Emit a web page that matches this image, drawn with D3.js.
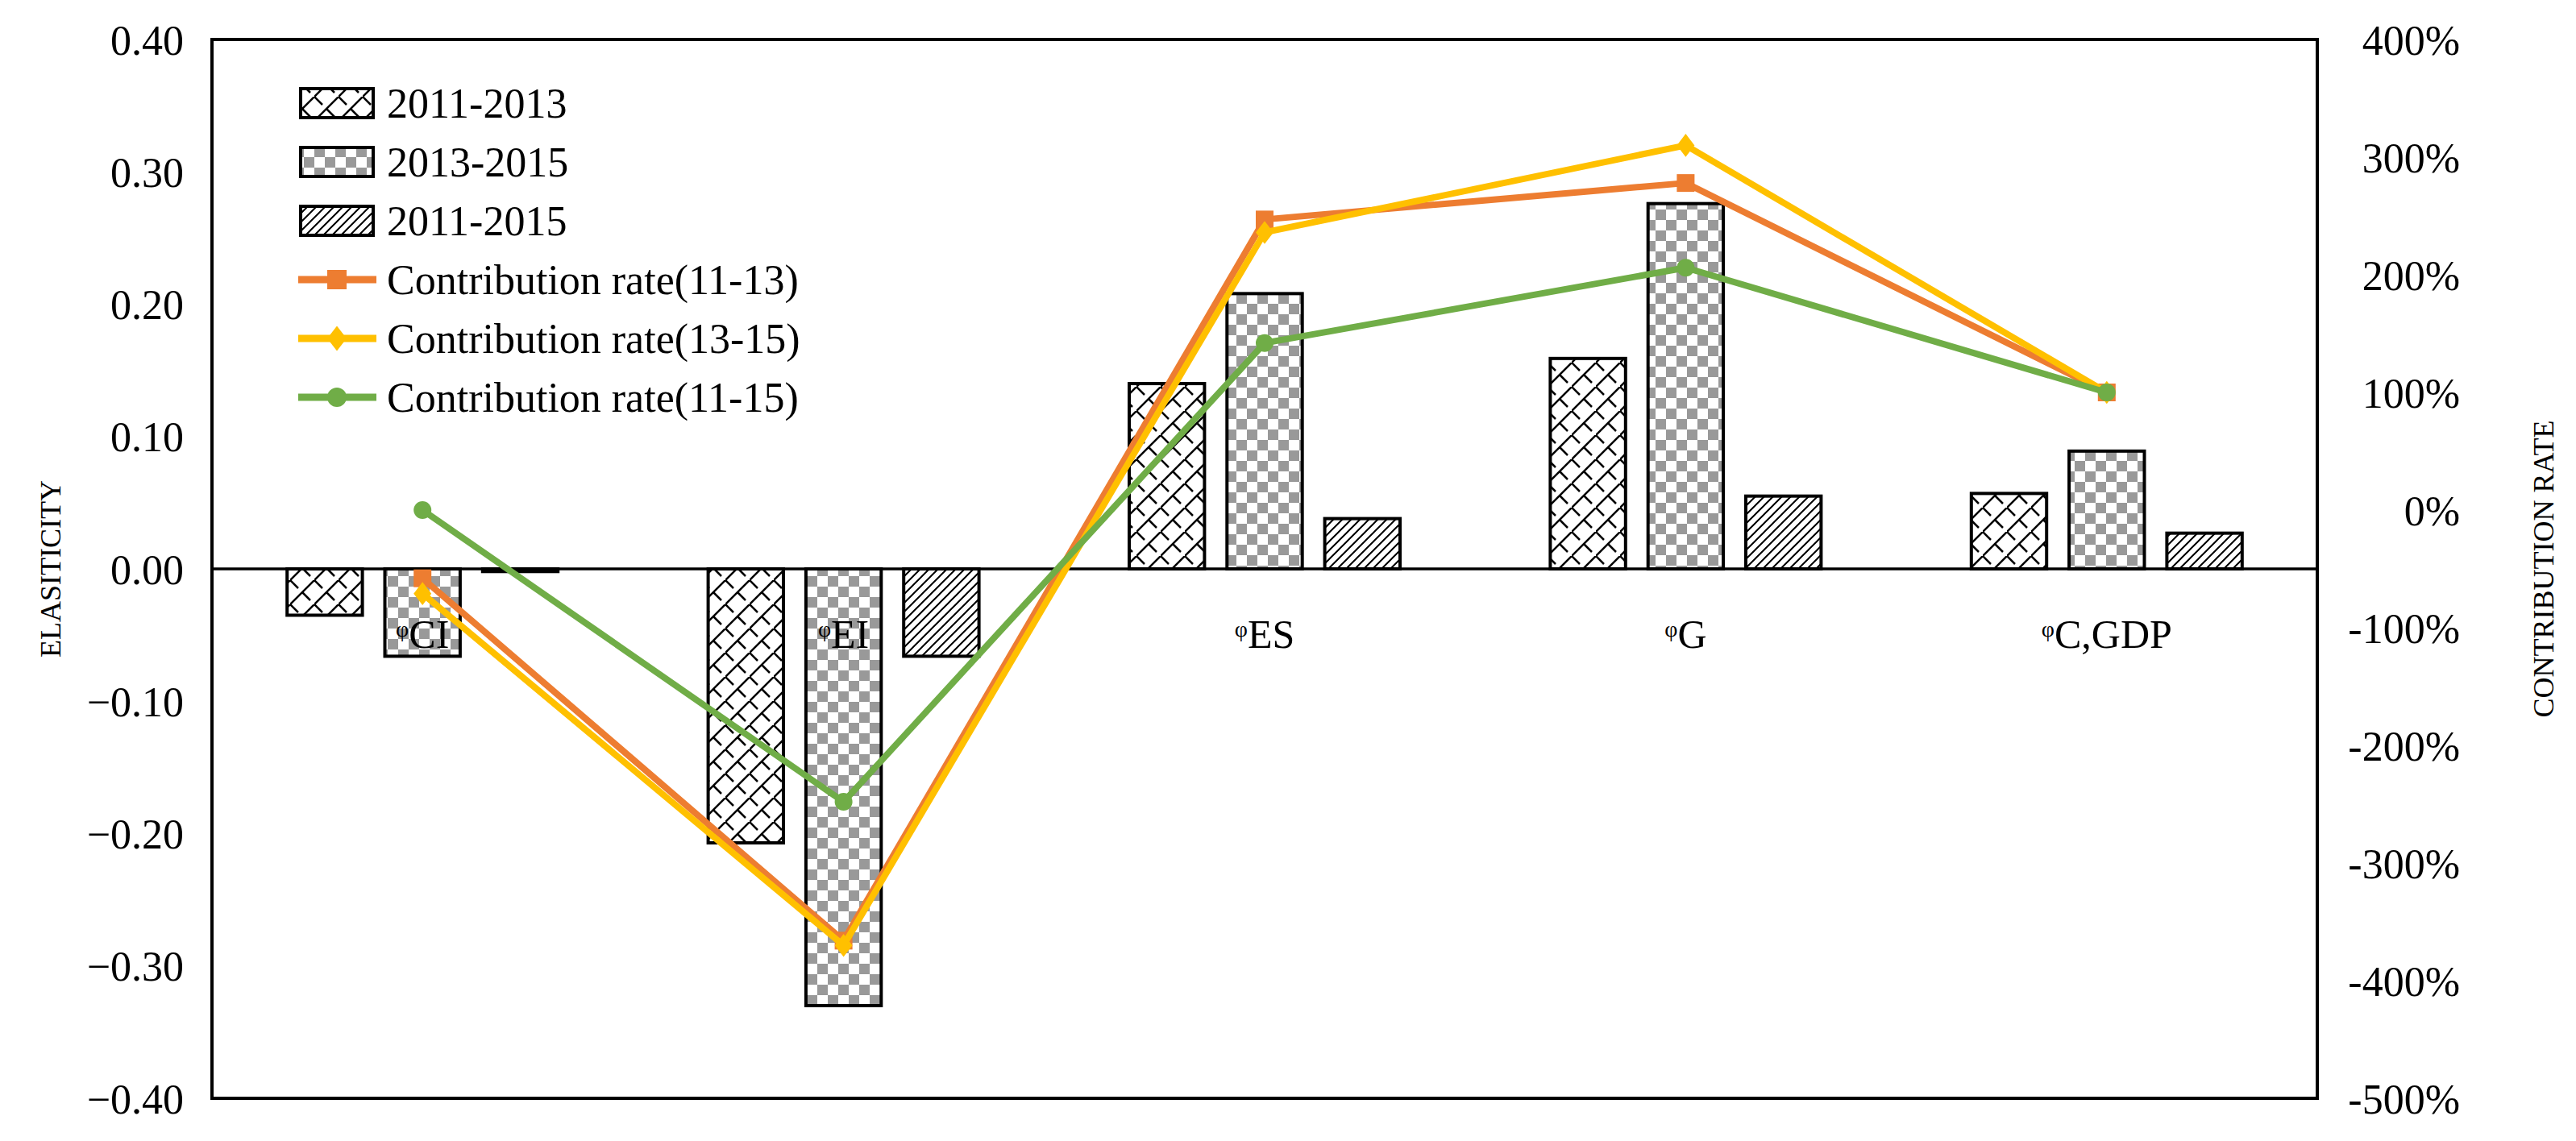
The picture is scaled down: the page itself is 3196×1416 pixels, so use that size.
<!DOCTYPE html>
<html><head><meta charset="utf-8">
<script src="https://cdn.jsdelivr.net/npm/d3@7"></script>
<style>body{margin:0;background:#fff}text{font-family:"Liberation Serif","Times New Roman",serif}</style>
</head><body><svg id="c" width="3196" height="1416"></svg>
<script>
const categories = ["CI","EI","ES","G","C,GDP"];
const barSeries = ["2011-2013","2013-2015","2011-2015"];
const bar1113 = [-0.035,-0.207,0.140,0.159,0.057];
const bar1315 = [-0.066,-0.330,0.208,0.276,0.089];
const bar1115 = [-0.002,-0.066,0.038,0.055,0.027];
const lineSeries = ["Contribution rate(11-13)","Contribution rate(13-15)","Contribution rate(11-15)"];
const rate1113 = [-58,-366,247,278,100];
const rate1315 = [-71,-370,236,310,100];
const rate1115 = [0,-248,142,206,100];
const leftTicks = [0.4,0.3,0.2,0.1,0,-0.1,-0.2,-0.3,-0.4];
const rightTicks = [400,300,200,100,0,-100,-200,-300,-400,-500];

const svg = d3.select("#c");
const L=263,R=2875,T=49,B=1363;
const x = d3.scaleBand().domain(categories).range([L,R]);
const yL = d3.scaleLinear().domain([-0.4,0.4]).range([B,T]);
const yR = d3.scaleLinear().domain([-500,400]).range([B,T]);
const sub = d3.scaleBand().domain(barSeries).range([-168,168]).paddingInner(0.23);

const defs = svg.append("defs");
// pattern 1: trellis
let p1 = defs.append("pattern").attr("id","p1").attr("patternUnits","userSpaceOnUse").attr("width",30).attr("height",30);
p1.append("rect").attr("width",30).attr("height",30).attr("fill","#fff");
p1.append("path").attr("d","M-2,32 L32,-2 M0,0 L10,10 M15,15 L25,25").attr("stroke","#000").attr("stroke-width",2.5);
let p2 = defs.append("pattern").attr("id","p2").attr("patternUnits","userSpaceOnUse").attr("width",26).attr("height",26);
p2.append("rect").attr("width",26).attr("height",26).attr("fill","#fff");
p2.append("rect").attr("width",13).attr("height",13).attr("fill","#999");
p2.append("rect").attr("x",13).attr("y",13).attr("width",13).attr("height",13).attr("fill","#999");
let p3 = defs.append("pattern").attr("id","p3").attr("patternUnits","userSpaceOnUse").attr("width",11).attr("height",11);
p3.append("rect").attr("width",11).attr("height",11).attr("fill","#fff");
p3.append("path").attr("d","M-2,13 L13,-2 M-2,2 L2,-2 M9,13 L13,9").attr("stroke","#000").attr("stroke-width",2);
const fills = ["url(#p1)","url(#p2)","url(#p3)"];
const barData = [bar1113,bar1315,bar1115];

barData.forEach((vals,si)=>{
  svg.append("g").selectAll("rect").data(vals).join("rect")
    .attr("x",(d,i)=>x(categories[i])+x.bandwidth()/2+sub(barSeries[si]))
    .attr("width",sub.bandwidth())
    .attr("y",d=>Math.min(yL(d),yL(0)))
    .attr("height",d=>Math.abs(yL(d)-yL(0)))
    .attr("fill",fills[si]).attr("stroke","#000").attr("stroke-width",4);
});

// frame
svg.append("rect").attr("x",L).attr("y",T).attr("width",R-L).attr("height",B-T).attr("fill","none").attr("stroke","#000").attr("stroke-width",4);
svg.append("line").attr("x1",L).attr("x2",R).attr("y1",yL(0)).attr("y2",yL(0)).attr("stroke","#000").attr("stroke-width",3.5);

// category labels
const cl = svg.append("g").selectAll("text").data(categories).join("text")
  .attr("x",d=>x(d)+x.bandwidth()/2).attr("y",804).attr("text-anchor","middle")
  .attr("font-size",50).attr("fill","#000");
cl.append("tspan").attr("font-size",28).attr("dy",-14).text("φ");
cl.append("tspan").attr("dy",14).text(d=>d);

// axes
const ax = d3.axisLeft(yL).tickValues(leftTicks).tickFormat(d3.format(".2f")).tickSize(0).tickPadding(35);
const gl = svg.append("g").attr("transform",`translate(${L},0)`).call(ax);
gl.select(".domain").remove();
gl.selectAll("text").attr("font-size",52).attr("font-family","Liberation Serif").attr("fill","#000").attr("dy","0.35em");
const ar = d3.axisRight(yR).tickValues(rightTicks).tickFormat(d=>d+"%").tickSize(0).tickPadding(177);
const gr = svg.append("g").attr("transform",`translate(${R},0)`).call(ar);
gr.select(".domain").remove();
gr.selectAll("text").attr("font-size",52).attr("font-family","Liberation Serif").attr("fill","#000").attr("text-anchor","end").attr("dy","0.35em");

svg.append("text").attr("transform","translate(75,706) rotate(-90)").attr("text-anchor","middle").attr("font-size",36).text("ELASITICITY");
svg.append("text").attr("transform","translate(3168,706) rotate(-90)").attr("text-anchor","middle").attr("font-size",36).text("CONTRIBUTION RATE");

// lines
const colors = ["#ED7D31","#FFC000","#70AD47"];
const rates = [rate1113,rate1315,rate1115];
const cx = i=>x(categories[i])+x.bandwidth()/2;
function marker(g,k,s){
  if(k===0) g.append("rect").attr("x",-s).attr("y",-s).attr("width",2*s).attr("height",2*s).attr("fill",colors[0]);
  else if(k===1) g.append("path").attr("d",`M0,${-s*1.3}L${s},0L0,${s*1.3}L${-s},0Z`).attr("fill",colors[1]);
  else g.append("circle").attr("r",s).attr("fill",colors[2]);
}
rates.forEach((vals,k)=>{
  const line = d3.line().x((d,i)=>cx(i)).y(d=>yR(d));
  svg.append("path").datum(vals).attr("d",line).attr("fill","none").attr("stroke",colors[k]).attr("stroke-width",8).attr("stroke-linejoin","round");
  vals.forEach((v,i)=>{ const g=svg.append("g").attr("transform",`translate(${cx(i)},${yR(v)})`); marker(g,k,11); });
});

// legend
const rowY = d3.scaleLinear().domain([0,1]).range([128,201]);
barSeries.forEach((s,i)=>{
  svg.append("rect").attr("x",373).attr("y",rowY(i)-18).attr("width",90).attr("height",36).attr("fill",fills[i]).attr("stroke","#000").attr("stroke-width",4);
  svg.append("text").attr("x",480).attr("y",rowY(i)).attr("dy","0.35em").attr("font-size",52).text(s);
});
lineSeries.forEach((s,j)=>{
  const i=j+3;
  svg.append("line").attr("x1",370).attr("x2",467).attr("y1",rowY(i)).attr("y2",rowY(i)).attr("stroke",colors[j]).attr("stroke-width",9);
  const g=svg.append("g").attr("transform",`translate(418,${rowY(i)})`); marker(g,j,12);
  svg.append("text").attr("x",480).attr("y",rowY(i)).attr("dy","0.35em").attr("font-size",52).text(s);
});
</script></body></html>
